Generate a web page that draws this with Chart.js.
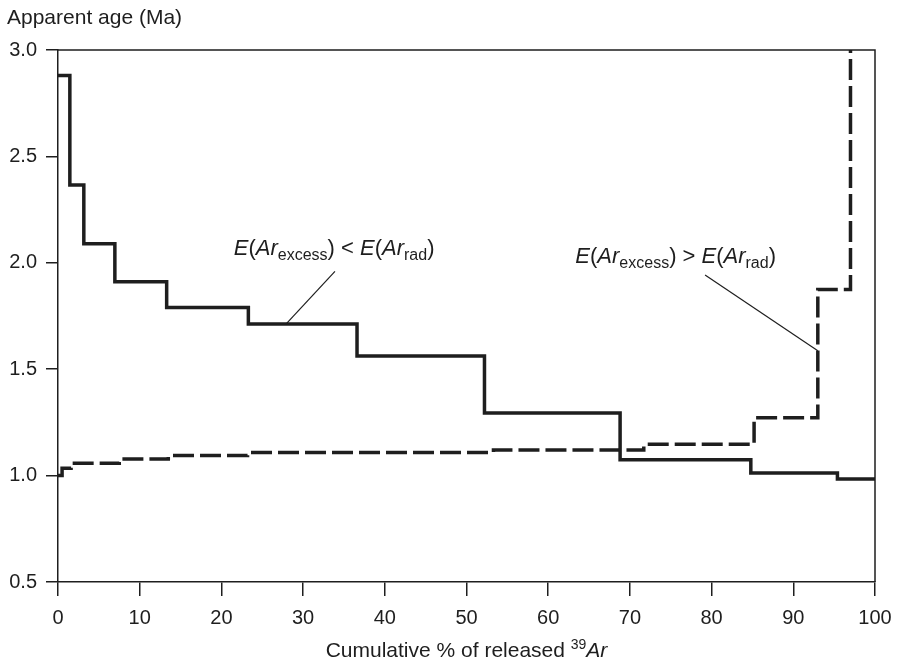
<!DOCTYPE html>
<html>
<head>
<meta charset="utf-8">
<title>Apparent age spectra</title>
<script src="https://cdn.jsdelivr.net/npm/chart.js@4"></script>
<style>
  body { margin: 0; background: #fff; }
  #wrap { width: 899px; height: 663px; position: relative; }
</style>
</head>
<body>
<div id="wrap"><canvas id="mycanvas"></canvas></div>
<script>
// step starts (cumulative % of 39Ar) and apparent ages (Ma)
var lowerX   = [0, 1.45, 3.16, 6.96, 13.3, 23.3, 36.6, 52.2, 68.8, 84.8, 95.4, 100];
var lowerAge = [2.88, 2.366, 2.09, 1.911, 1.79, 1.712, 1.562, 1.294, 1.074, 1.012, 0.984, 0.984];
var upperX   = [0, 0.5, 1.6, 7.5, 13.5, 23.2, 53.3, 71.7, 85.2, 93.0, 97.0];
var upperAge = [1.0, 1.034, 1.058, 1.078, 1.094, 1.108, 1.12, 1.147, 1.272, 1.875, 3.0];
var xTicks = [0, 10, 20, 30, 40, 50, 60, 70, 80, 90, 100];
var yTicks = [0.5, 1.0, 1.5, 2.0, 2.5, 3.0];

var FONT = '"Liberation Sans", Arial, Helvetica, sans-serif';
var INK = '#1e1e1e';

function pts(xs, ys) {
  var out = [];
  for (var i in xs) out.push({x: xs[i], y: ys[i]});
  return out;
}

// E(Ar_excess) ? E(Ar_rad)
function eLabel(op) {
  var n = '22px ' + FONT, it = 'italic 22px ' + FONT, sb = '16px ' + FONT;
  return [
    {t: 'E', font: it}, {t: '(', font: n}, {t: 'Ar', font: it}, {t: 'excess', font: sb, dy: 5},
    {t: ') ' + op + ' ', font: n},
    {t: 'E', font: it}, {t: '(', font: n}, {t: 'Ar', font: it}, {t: 'rad', font: sb, dy: 5},
    {t: ')', font: n}
  ];
}

// label anchors in data units
var notes = [
  {op: '<', x: 33.8, y: 2.037, from: [33.9, 1.96], to: [27.9, 1.712]},
  {op: '>', x: 75.6, y: 1.998, from: [79.2, 1.943], to: [93.0, 1.587]}
];

function drawRich(ctx, parts, x, baseY, align) {
  var w = 0;
  parts.forEach(function(p) { ctx.font = p.font; p.w = ctx.measureText(p.t).width; w += p.w; });
  if (align === 'center') x -= w / 2;
  ctx.textAlign = 'left';
  ctx.textBaseline = 'alphabetic';
  parts.forEach(function(p) {
    ctx.font = p.font;
    ctx.fillText(p.t, x, baseY + (p.dy || 0));
    x += p.w;
  });
}

var extras = {
  id: 'extras',
  afterDraw: function(chart) {
    var ctx = chart.ctx, a = chart.chartArea;
    var xs = chart.scales.x, ys = chart.scales.y;
    ctx.save();
    // frame top + right
    ctx.strokeStyle = INK;
    ctx.lineWidth = 1.5;
    ctx.beginPath();
    ctx.moveTo(a.left, a.top);
    ctx.lineTo(a.right, a.top);
    ctx.lineTo(a.right, a.bottom);
    ctx.stroke();

    ctx.fillStyle = INK;
    // axis titles
    drawRich(ctx, [{t: 'Apparent age (Ma)', font: '21px ' + FONT}], 7, 24, 'left');
    drawRich(ctx, [
      {t: 'Cumulative % of released ', font: '21px ' + FONT},
      {t: '39', font: '14px ' + FONT, dy: -8},
      {t: 'Ar', font: 'italic 21px ' + FONT}
    ], (a.left + a.right) / 2, 657, 'center');

    // annotations + leader lines
    notes.forEach(function(n) {
      drawRich(ctx, eLabel(n.op), xs.getPixelForValue(n.x), ys.getPixelForValue(n.y), 'center');
      ctx.lineWidth = 1.2;
      ctx.beginPath();
      ctx.moveTo(xs.getPixelForValue(n.from[0]), ys.getPixelForValue(n.from[1]));
      ctx.lineTo(xs.getPixelForValue(n.to[0]), ys.getPixelForValue(n.to[1]));
      ctx.stroke();
    });
    ctx.restore();
  }
};

var chartdata = {
  datasets: [
    {
      label: 'E(Ar excess) < E(Ar rad)',
      data: pts(lowerX, lowerAge),
      stepped: true,
      borderColor: INK,
      borderWidth: 3.5,
      pointRadius: 0,
      fill: false
    },
    {
      label: 'E(Ar excess) > E(Ar rad)',
      data: pts(upperX, upperAge),
      stepped: true,
      borderColor: INK,
      borderWidth: 3.5,
      borderDash: [21, 6],
      pointRadius: 0,
      fill: false
    }
  ]
};

var ctx = document.getElementById('mycanvas');
var ageChart = new Chart(ctx, {
  type: 'line',
  data: chartdata,
  plugins: [extras],
  options: {
    responsive: true,
    maintainAspectRatio: false,
    animation: false,
    layout: { autoPadding: false, padding: { top: 50, right: 24, left: 0, bottom: 0 } },
    plugins: { legend: { display: false }, tooltip: { enabled: false } },
    scales: {
      x: {
        type: 'linear',
        min: 0,
        max: 100,
        afterFit: function(s) { s.height = 81; s.paddingLeft = 0; s.paddingRight = 0; },
        afterBuildTicks: function(s) { s.ticks = xTicks.map(function(v) { return {value: v}; }); },
        border: { color: INK, width: 1.5 },
        grid: { drawOnChartArea: false, tickLength: 14, color: INK, lineWidth: 1.5 },
        ticks: { color: INK, padding: 10, maxRotation: 0, font: { family: FONT, size: 20 } }
      },
      y: {
        type: 'linear',
        min: 0.5,
        max: 3.0,
        afterFit: function(s) { s.width = 58; s.paddingTop = 0; s.paddingBottom = 0; },
        afterBuildTicks: function(s) { s.ticks = yTicks.map(function(v) { return {value: v}; }); },
        border: { color: INK, width: 1.5 },
        grid: { drawOnChartArea: false, tickLength: 12, color: INK, lineWidth: 1.5 },
        ticks: {
          color: INK, padding: 9, font: { family: FONT, size: 20 },
          callback: function(v) { return v.toFixed(1); }
        }
      }
    }
  }
});
</script>
</body>
</html>
